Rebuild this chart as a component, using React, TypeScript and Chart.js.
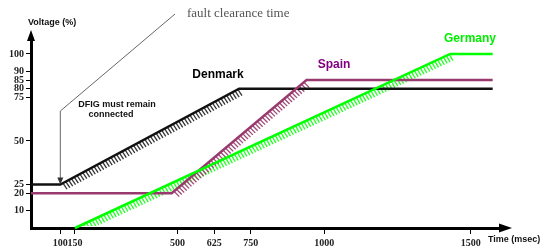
import { useEffect, useRef } from "react";
import { Chart, registerables } from "chart.js";

Chart.register(...registerables);

// ---- data ----
const timeTicks = [100, 150, 500, 625, 750, 1000, 1500];
const voltageTicks = [10, 20, 25, 50, 75, 80, 85, 90, 100];

const germanyTime = [150, 1430, 1575];
const germanyVoltage = [0, 100, 100];
const spainTime = [0, 480, 940, 1575];
const spainVoltage = [20, 20, 85, 85];
const denmarkTime = [0, 100, 710, 1575];
const denmarkVoltage = [25, 25, 80, 80];

const faultClearanceTime = 100;
const denmarkInitialVoltage = 25;

const toPoints = (xs: number[], ys: number[]) => xs.map((x, i) => ({ x, y: ys[i] }));

const hatchPlugin = {
  id: "hatch",
  beforeDatasetsDraw(chart: any) {
    const ctx = chart.ctx;
    const a = chart.chartArea;
    ctx.save();
    ctx.beginPath();
    ctx.rect(a.left + 2, 0, a.right - a.left + 20, a.bottom - 2);
    ctx.clip();
    chart.data.datasets.forEach((ds: any, i: number) => {
      const meta = chart.getDatasetMeta(i);
      const segs: number[] = ds.hatch || [];
      ctx.strokeStyle = ds.hatchColor;
      ctx.lineWidth = 1.3;
      segs.forEach((s) => {
        const p0 = meta.data[s];
        const p1 = meta.data[s + 1];
        const dx = p1.x - p0.x;
        const dy = p1.y - p0.y;
        const L = Math.hypot(dx, dy);
        const ux = dx / L;
        const uy = dy / L;
        const nx = -uy;
        const ny = ux;
        const step = 3.2;
        const len = 7;
        for (let t = 3; t < L - 1; t += step) {
          const x = p0.x + ux * t;
          const y = p0.y + uy * t;
          ctx.beginPath();
          ctx.moveTo(x, y);
          ctx.lineTo(x + nx * len + 0.8, y + ny * len);
          ctx.stroke();
        }
      });
    });
    ctx.restore();
  },
};

const decorPlugin = {
  id: "decor",
  afterDraw(chart: any) {
    const ctx = chart.ctx;
    const a = chart.chartArea;
    const xs = chart.scales.x;
    const ys = chart.scales.y;
    ctx.save();
    // axis arrows
    ctx.fillStyle = "#000";
    ctx.beginPath();
    ctx.moveTo(a.left, a.top - 10);
    ctx.lineTo(a.left - 4, a.top + 1);
    ctx.lineTo(a.left + 4, a.top + 1);
    ctx.closePath();
    ctx.fill();
    ctx.beginPath();
    ctx.moveTo(a.right + 12, a.bottom);
    ctx.lineTo(a.right - 1, a.bottom - 4.5);
    ctx.lineTo(a.right - 1, a.bottom + 4.5);
    ctx.closePath();
    ctx.fill();

    // fault clearance leader
    const fx = xs.getPixelForValue(faultClearanceTime);
    const tipY = ys.getPixelForValue(denmarkInitialVoltage);
    const cornerY = 111;
    ctx.strokeStyle = "#666";
    ctx.lineWidth = 1;
    ctx.beginPath();
    ctx.moveTo(175, 14);
    ctx.lineTo(fx, cornerY);
    ctx.lineTo(fx, tipY - 5);
    ctx.stroke();
    ctx.fillStyle = "#333";
    ctx.beginPath();
    ctx.moveTo(fx, tipY);
    ctx.lineTo(fx - 3, tipY - 7);
    ctx.lineTo(fx + 3, tipY - 7);
    ctx.closePath();
    ctx.fill();

    // texts
    ctx.textBaseline = "middle";
    ctx.textAlign = "left";
    ctx.fillStyle = "#555";
    ctx.font = '13px "Liberation Serif"';
    ctx.fillText("fault clearance time", 187, 14);

    ctx.fillStyle = "#111";
    ctx.font = 'bold 9px "Liberation Sans"';
    ctx.fillText("Voltage (%)", 28, 23);
    ctx.fillText("Time (msec)", 488, 240);
    ctx.textAlign = "center";
    ctx.fillText("DFIG must remain", 117, 105);
    ctx.fillText("connected", 111, 115);

    ctx.font = 'bold 12px "Liberation Sans"';
    ctx.fillStyle = "#000";
    ctx.fillText("Denmark", 218, 75);
    ctx.fillStyle = "#800080";
    ctx.fillText("Spain", 334, 65);
    ctx.fillStyle = "#00ee00";
    ctx.fillText("Germany", 470, 39);
    ctx.restore();
  },
};

export default function App() {
  const ref = useRef<HTMLCanvasElement | null>(null);
  useEffect(() => {
    if (!ref.current) return;
    const tickFont = { family: '"Liberation Serif"', size: 10, weight: "bold" as const };
    const chart = new Chart(ref.current, {
      type: "scatter",
      data: {
        datasets: [
          {
            label: "Germany",
            data: toPoints(germanyTime, germanyVoltage),
            showLine: true,
            borderColor: "#00ff00",
            borderWidth: 2.5,
            pointRadius: 0,
            clip: false,
            hatch: [0],
            hatchColor: "#22ff22",
          } as any,
          {
            label: "Spain",
            data: toPoints(spainTime, spainVoltage),
            showLine: true,
            borderColor: "#993a6e",
            borderWidth: 2.5,
            pointRadius: 0,
            clip: false,
            hatch: [1],
            hatchColor: "#a04a78",
          } as any,
          {
            label: "Denmark",
            data: toPoints(denmarkTime, denmarkVoltage),
            showLine: true,
            borderColor: "#111",
            borderWidth: 2.5,
            pointRadius: 0,
            clip: false,
            hatch: [1],
            hatchColor: "#333",
          } as any,
        ],
      },
      options: {
        animation: false,
        responsive: false,
        events: [],
        layout: { padding: { left: 0, top: 40, right: 44, bottom: 0 } },
        plugins: { legend: { display: false }, tooltip: { enabled: false } },
        scales: {
          x: {
            type: "linear",
            min: 0,
            max: 1600,
            afterFit: (s: any) => {
              s.height = 21;
            },
            afterBuildTicks: (s: any) => {
              s.ticks = timeTicks.map((v) => ({ value: v }));
            },
            grid: { drawOnChartArea: false, drawTicks: true, tickLength: 6, color: "#000", lineWidth: 1 },
            border: { display: true, width: 3, color: "#000" },
            ticks: {
              autoSkip: false,
              maxRotation: 0,
              padding: 3,
              font: tickFont,
              color: "#222",
              callback: (v: any) => String(v),
            },
          },
          y: {
            type: "linear",
            min: 0,
            max: 108,
            afterFit: (s: any) => {
              s.width = 31;
            },
            afterBuildTicks: (s: any) => {
              s.ticks = voltageTicks.map((v) => ({ value: v }));
            },
            grid: { drawOnChartArea: false, drawTicks: true, tickLength: 5, color: "#000", lineWidth: 1 },
            border: { display: true, width: 3, color: "#000" },
            ticks: { autoSkip: false, padding: 2, font: tickFont, color: "#222", callback: (v: any) => String(v) },
          },
        },
      },
      plugins: [hatchPlugin, decorPlugin],
    });
    return () => chart.destroy();
  }, []);
  return (
    <div style={{ position: "fixed", left: 0, top: 0, width: 544, height: 249, background: "#fff" }}>
      <canvas ref={ref} width={544} height={249} style={{ width: 544, height: 249 }} />
    </div>
  );
}
